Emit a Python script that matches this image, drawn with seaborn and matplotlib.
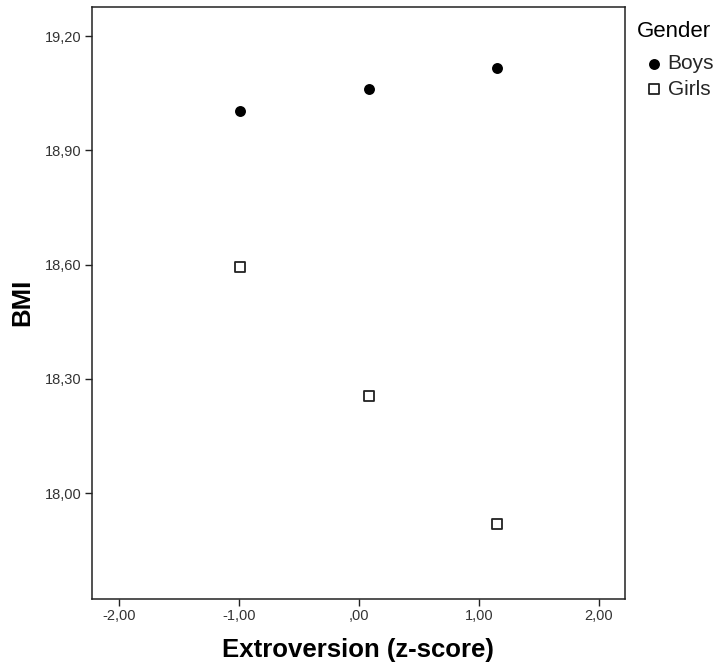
import matplotlib
matplotlib.use("Agg")
import matplotlib.pyplot as plt
import pandas as pd
import seaborn as sns

# values
extroversion = [-0.99, 0.08, 1.15]
bmi_boys = [19.003, 19.060, 19.117]
bmi_girls = [18.593, 18.256, 17.919]

x_ticks = [-2, -1, 0, 1, 2]
x_tick_labels = ["-2,00", "-1,00", ",00", "1,00", "2,00"]
y_ticks = [18.0, 18.3, 18.6, 18.9, 19.2]
y_tick_labels = ["18,00", "18,30", "18,60", "18,90", "19,20"]


def main():
    sns.set_theme(style="white")
    plt.rcParams['font.family'] = ['Liberation Sans', 'DejaVu Sans']

    df = pd.DataFrame({
        "Extroversion": extroversion * 2,
        "BMI": bmi_boys + bmi_girls,
        "Gender": ["Boys"] * 3 + ["Girls"] * 3,
    })

    fig = plt.figure(figsize=(7.25, 6.63), dpi=100)
    ax = fig.add_axes([0.1265, 0.0965, 0.7355, 0.8934])

    sns.scatterplot(data=df[df.Gender == "Boys"], x="Extroversion", y="BMI",
                    color="black", marker="o", s=62, linewidth=0,
                    label="Boys", ax=ax)
    sns.scatterplot(data=df[df.Gender == "Girls"], x="Extroversion", y="BMI",
                    facecolor="white", edgecolor="#222222", marker="s",
                    s=52, linewidth=1.3, label="Girls", ax=ax)

    ax.set_xlim(-2.228, 2.217)
    ax.set_ylim(17.722, 19.277)
    ax.set_xticks(x_ticks)
    ax.set_xticklabels(x_tick_labels)
    ax.set_yticks(y_ticks)
    ax.set_yticklabels(y_tick_labels)
    ax.tick_params(axis="both", which="major", direction="out", length=5,
                   width=1, color="#222222", labelsize=10.5,
                   labelcolor="#333333", left=True, bottom=True, pad=2)

    for sp in ax.spines.values():
        sp.set_color("#222222")
        sp.set_linewidth(1.1)

    ax.set_xlabel("Extroversion (z-score)", fontsize=18.5, fontweight="bold",
                  color="black", labelpad=11)
    ax.set_ylabel("BMI", fontsize=18.5, fontweight="bold", color="black",
                  labelpad=8)

    # legend title placed by hand, SPSS style
    handles, labels = ax.get_legend_handles_labels()
    ax.get_legend().remove() if ax.get_legend() else None
    fig.text(636.7 / 725, 1 - 37.3 / 663, "Gender", fontsize=16,
             color="black", va="baseline", ha="left")
    fig.legend(handles, labels, loc="upper left",
               bbox_to_anchor=(633.2 / 725, 1 - 45.8 / 663),
               frameon=False, fontsize=15, handletextpad=0.05,
               handlelength=1.2, borderaxespad=0.0, labelspacing=0.32)

    plt.savefig("out.png", dpi=100)
    plt.close()


if __name__ == '__main__':
    main()
